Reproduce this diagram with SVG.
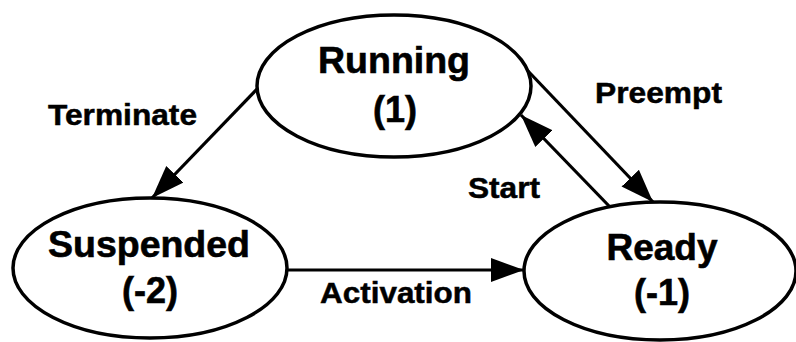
<svg xmlns="http://www.w3.org/2000/svg" width="796" height="342" viewBox="0 0 796 342">
<style>
.node ellipse{fill:#fff;stroke:#000;stroke-width:3.5}
.node text{font-family:"Liberation Sans",Arial,sans-serif;font-weight:bold;font-size:36px;text-anchor:middle;fill:#000;stroke:#000;stroke-width:0.6}
.edge line{stroke:#000;stroke-width:3.2}
.lbl{font-family:"Liberation Sans",Arial,sans-serif;font-weight:bold;font-size:30px;fill:#000;stroke:#000;stroke-width:0.5}
</style>
<defs>
<marker id="ah" markerUnits="userSpaceOnUse" markerWidth="34" markerHeight="26" refX="33" refY="12" orient="auto" viewBox="0 0 34 24">
<path d="M0,0 L33,12 L0,24 Z" fill="#000"/>
</marker>
</defs>
<rect width="796" height="342" fill="#fff"/>
<g id="edges" class="edge">
<line x1="258" y1="88" x2="152" y2="198" marker-end="url(#ah)"/>
<line x1="528" y1="71" x2="653" y2="202" marker-end="url(#ah)"/>
<line x1="610" y1="207" x2="521" y2="115" marker-end="url(#ah)"/>
<line x1="288" y1="270" x2="524" y2="270" marker-end="url(#ah)"/>
</g>
<g id="running" class="node">
<ellipse cx="394" cy="86" rx="137" ry="71"/>
<text x="394" y="73" textLength="152" lengthAdjust="spacingAndGlyphs">Running</text>
<text x="395" y="122">(1)</text>
</g>
<g id="suspended" class="node">
<ellipse cx="150" cy="268" rx="137" ry="70"/>
<text x="149" y="257" textLength="202" lengthAdjust="spacingAndGlyphs">Suspended</text>
<text x="150" y="303">(-2)</text>
</g>
<g id="ready" class="node">
<ellipse cx="660" cy="271" rx="136" ry="69"/>
<text x="662" y="260" textLength="111" lengthAdjust="spacingAndGlyphs">Ready</text>
<text x="662" y="305">(-1)</text>
</g>
<g id="labels">
<text class="lbl" x="48" y="125" textLength="149" lengthAdjust="spacingAndGlyphs">Terminate</text>
<text class="lbl" x="595" y="103" textLength="127" lengthAdjust="spacingAndGlyphs">Preempt</text>
<text class="lbl" x="468" y="198" textLength="72" lengthAdjust="spacingAndGlyphs">Start</text>
<text class="lbl" x="320" y="303" textLength="152" lengthAdjust="spacingAndGlyphs">Activation</text>
</g>
</svg>
